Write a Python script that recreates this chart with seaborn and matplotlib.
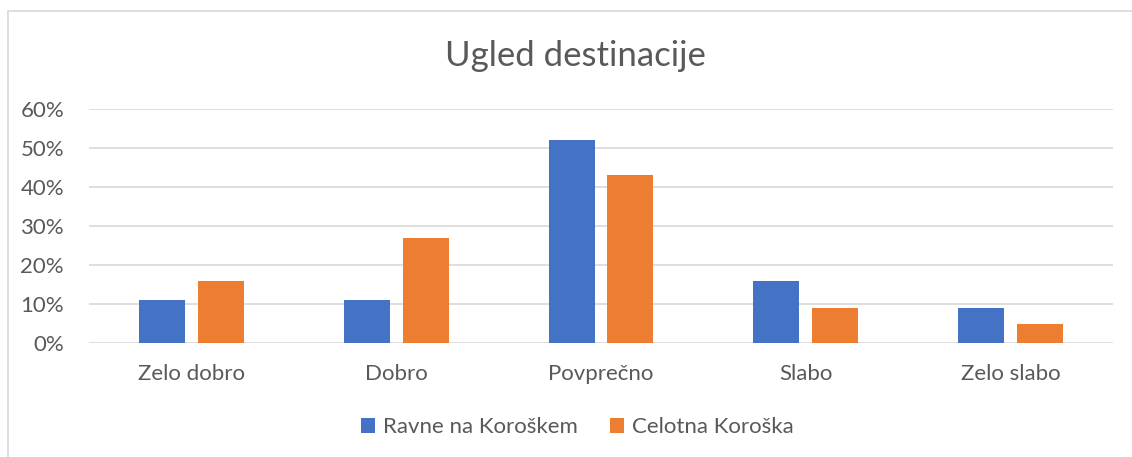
import pandas as pd
import numpy as np
import matplotlib.pyplot as plt
import seaborn as sns
from matplotlib.patches import Rectangle
from matplotlib.ticker import PercentFormatter

# data (shares)
categories = ['Zelo dobro', 'Dobro', 'Povprečno', 'Slabo', 'Zelo slabo']
ravne = [0.11, 0.11, 0.52, 0.16, 0.09]
celotna = [0.16, 0.27, 0.43, 0.09, 0.05]
series_names = ['Ravne na Koroškem', 'Celotna Koroška']
y_ticks = [0, 0.1, 0.2, 0.3, 0.4, 0.5, 0.6]

df = pd.DataFrame({
    'Kategorija': categories * 2,
    'Serija': [series_names[0]] * len(categories) + [series_names[1]] * len(categories),
    'Delez': ravne + celotna,
})

sns.set_style('white')
plt.rcParams['font.family'] = ['Lato', 'DejaVu Sans']
text_col = '#595959'
grid_col = '#D9D9D9'

fig = plt.figure(figsize=(11.32, 4.57), dpi=100)
ax = fig.add_axes([89 / 1132, 1 - 343 / 457, 1024 / 1132, 234 / 457])

# chart frame (cut off on the right and bottom like the screenshot)
fig.patches.append(Rectangle((8 / 1132, -0.05), 1.2, 1 - 11 / 457 + 0.05,
                             transform=fig.transFigure, fill=False,
                             edgecolor='#D9D9D9', linewidth=1.2))

sns.barplot(data=df, x='Kategorija', y='Delez', hue='Serija',
            palette=['#4472C4', '#ED7D31'], width=0.576, gap=0.22,
            saturation=1, linewidth=0, ax=ax, legend=True)

ax.set_ylim(0, 0.6)
ax.set_xlim(-0.5, len(categories) - 0.5)
ax.set_yticks(y_ticks)
ax.yaxis.set_major_formatter(PercentFormatter(1.0, decimals=0))
ax.grid(axis='y', color=grid_col, linewidth=1.2)
ax.set_axisbelow(True)
for s in ['top', 'right', 'left', 'bottom']:
    ax.spines[s].set_visible(False)
ax.tick_params(axis='both', length=0, labelsize=16, colors=text_col)
ax.tick_params(axis='x', pad=15)
ax.tick_params(axis='y', pad=18)
ax.set_xlabel('')
ax.set_ylabel('')

fig.text(0.508, 1 - 56 / 457, 'Ugled destinacije', ha='center', va='center',
         fontsize=25, color=text_col)

handles, labels = ax.get_legend_handles_labels()
ax.get_legend().remove()
fig.legend(handles, labels, loc='center', bbox_to_anchor=(0.51, 1 - 427 / 457),
           ncol=2, frameon=False, fontsize=16, labelcolor=text_col,
           handlelength=0.65, handleheight=0.65, handletextpad=0.35, columnspacing=1.45)

fig.savefig('out.png', dpi=100, facecolor='white')
